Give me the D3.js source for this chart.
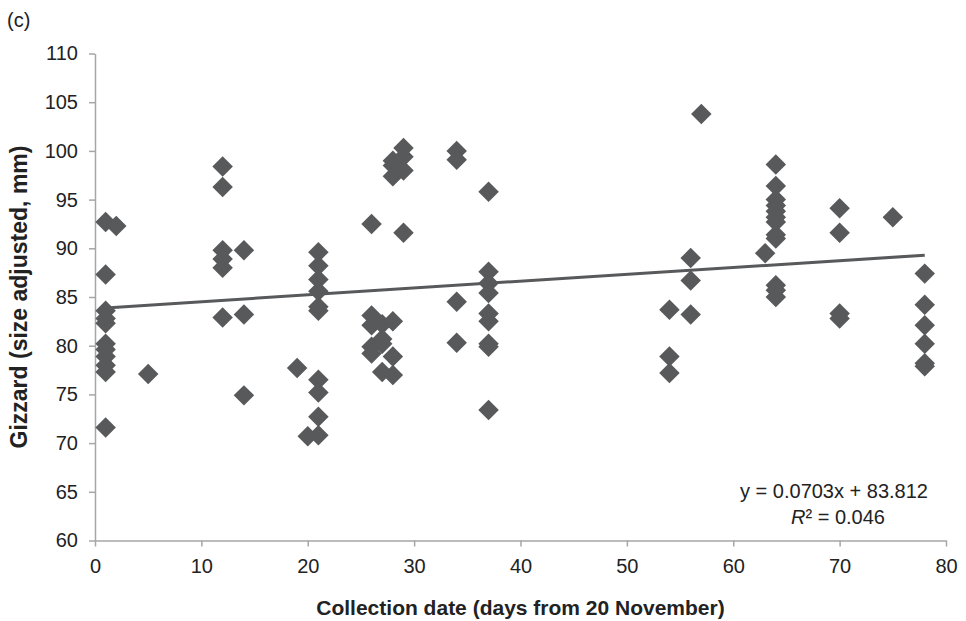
<!DOCTYPE html>
<html>
<head>
<meta charset="utf-8">
<script src="https://cdn.jsdelivr.net/npm/d3@7"></script>
<style>
html,body{margin:0;padding:0;background:#fff;}
svg{display:block;font-family:"Liberation Sans",Arial,sans-serif;}
</style>
</head>
<body>
<svg id="chart" width="966" height="621"></svg>
<script>
// Collection day (days from 20 November) for each bird
const days = [
  1,1,1,1,1,1,1,1,1,1,1,
  2,
  5,
  12,12,12,12,12,12,
  14,14,14,
  19,
  20,
  21,21,21,21,21,21,21,21,21,21,
  26,26,26,26,26,
  27,27,27,27,
  28,28,28,28,28,28,
  29,29,29,29,
  34,34,34,34,
  37,37,37,37,37,37,37,37,37,
  54,54,54,
  56,56,56,
  57,
  63,
  64,64,64,64,64,64,64,64,64,64,64,64,
  70,70,70,70,
  75,
  78,78,78,78,78,78
];
// Gizzard (size adjusted, mm)
const gizzard = [
  92.7,87.3,83.6,82.8,82.3,80.2,79.6,78.9,78.0,77.3,71.6,
  92.3,
  77.1,
  98.4,96.3,89.8,88.9,88.0,82.9,
  89.8,83.2,74.9,
  77.7,
  70.7,
  89.6,88.2,86.8,85.6,84.0,83.6,76.5,75.2,72.7,70.8,
  92.5,83.1,82.1,79.9,79.2,
  82.2,80.7,80.2,77.3,
  99.0,98.5,97.4,82.5,78.9,77.0,
  100.3,99.4,98.0,91.6,
  100.0,99.1,84.5,80.3,
  95.8,87.6,86.4,85.4,83.3,82.5,80.2,79.9,73.4,
  83.7,78.9,77.2,
  89.0,86.7,83.2,
  103.8,
  89.5,
  98.6,96.4,95.0,94.4,93.8,93.2,92.7,91.4,91.0,86.2,85.7,85.0,
  94.1,91.6,83.3,82.8,
  93.2,
  87.4,84.2,82.1,80.2,78.2,77.9
];
const xTicks = [0,10,20,30,40,50,60,70,80];
const yTicks = [60,65,70,75,80,85,90,95,100,105,110];
const slope = 0.0703, intercept = 83.812, r2 = "0.046";

const svg = d3.select("#chart");
const x = d3.scaleLinear().domain([0,80]).range([95,946]);
const y = d3.scaleLinear().domain([60,110]).range([540.5,53.5]);
const axisColor = "#a6a6a6";
const textColor = "#222";

// x axis
const gx = svg.append("g").attr("transform",`translate(0,${y(60)})`)
  .call(d3.axisBottom(x).tickValues(xTicks).tickSize(6).tickSizeOuter(0).tickPadding(12));
gx.select(".domain").attr("stroke",axisColor).attr("stroke-width",1.5);
gx.selectAll(".tick line").attr("stroke",axisColor).attr("stroke-width",1.5);
gx.selectAll(".tick text").attr("fill",textColor).style("font-size","20px");

// y axis
const gy = svg.append("g").attr("transform",`translate(${x(0)},0)`)
  .call(d3.axisLeft(y).tickValues(yTicks).tickSize(6).tickSizeOuter(0).tickPadding(11));
gy.select(".domain").attr("stroke",axisColor).attr("stroke-width",1.5);
gy.selectAll(".tick line").attr("stroke",axisColor).attr("stroke-width",1.5);
gy.selectAll(".tick text").attr("fill",textColor).style("font-size","20px");

// points
const pts = days.map((d,i)=>({x:d,y:gizzard[i]}));
const diamond = d3.symbol().type(d3.symbolSquare).size(210);
svg.append("g").selectAll("path").data(pts).join("path")
  .attr("d",diamond)
  .attr("transform",d=>`translate(${x(d.x)},${y(d.y)}) rotate(45)`)
  .attr("fill","#58595b");

// trend line
const xmin = d3.min(days), xmax = d3.max(days);
svg.append("line")
  .attr("x1",x(xmin)).attr("y1",y(intercept+slope*xmin))
  .attr("x2",x(xmax)).attr("y2",y(intercept+slope*xmax))
  .attr("stroke","#58595b").attr("stroke-width",3);

// equation
svg.append("text").attr("x",834).attr("y",498).attr("text-anchor","middle")
  .attr("fill",textColor).style("font-size","20px")
  .text(`y = ${slope}x + ${intercept}`);
const t2 = svg.append("text").attr("x",838).attr("y",524).attr("text-anchor","middle")
  .attr("fill",textColor).style("font-size","20px");
t2.append("tspan").style("font-style","italic").text("R");
t2.append("tspan").text(`² = ${r2}`);

// titles
svg.append("text").attr("x",x(40)).attr("y",615).attr("text-anchor","middle")
  .attr("fill",textColor).style("font-size","21px").style("font-weight","bold")
  .text("Collection date (days from 20 November)");
svg.append("text").attr("transform",`translate(27,${y(85)}) rotate(-90)`)
  .attr("text-anchor","middle").attr("fill",textColor)
  .style("font-size","23px").style("font-weight","bold")
  .text("Gizzard (size adjusted, mm)");
svg.append("text").attr("x",7).attr("y",27).attr("fill",textColor)
  .style("font-size","20px").text("(c)");
</script>
</body>
</html>
